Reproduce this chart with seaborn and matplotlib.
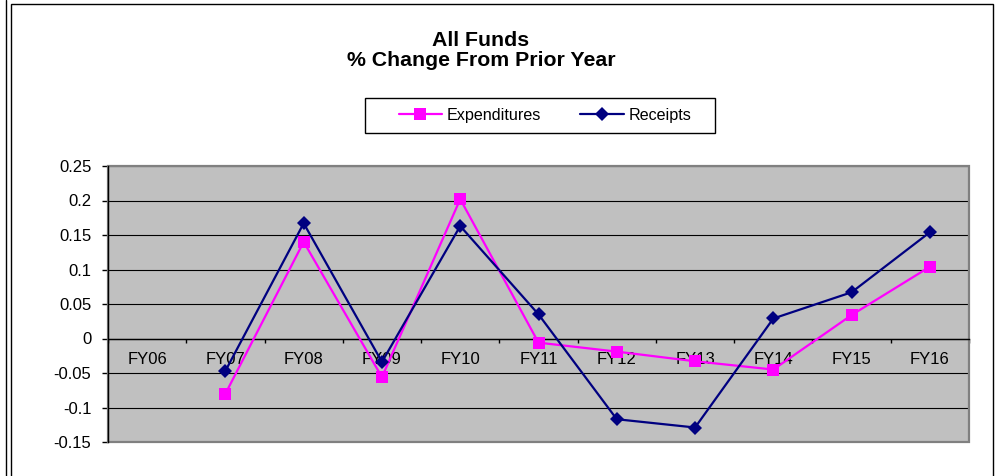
import numpy as np
import pandas as pd
import matplotlib
matplotlib.use("Agg")
import matplotlib.pyplot as plt
import seaborn as sns
from matplotlib.patches import Rectangle
from matplotlib.lines import Line2D

categories = ["FY06", "FY07", "FY08", "FY09", "FY10", "FY11",
              "FY12", "FY13", "FY14", "FY15", "FY16"]
expenditures = [np.nan, -0.080, 0.140, -0.056, 0.202, -0.006,
                -0.019, -0.033, -0.045, 0.034, 0.104]
receipts = [np.nan, -0.047, 0.167, -0.034, 0.163, 0.035,
            -0.117, -0.129, 0.029, 0.067, 0.154]
y_ticks = [-0.15, -0.1, -0.05, 0, 0.05, 0.1, 0.15, 0.2, 0.25]
y_tick_labels = ["-0.15", "-0.1", "-0.05", "0", "0.05", "0.1", "0.15", "0.2", "0.25"]
title_lines = ["All Funds", "% Change From Prior Year"]
series_names = ["Expenditures", "Receipts"]

sns.set_theme(style="white")
plt.rcParams['font.family'] = ['Liberation Sans', 'DejaVu Sans']
plt.rcParams['text.color'] = 'black'
plt.rcParams['xtick.color'] = 'black'
plt.rcParams['ytick.color'] = 'black'

W, H = 999, 476
fig = plt.figure(figsize=(W / 100, H / 100), dpi=100)
fig.patch.set_facecolor('white')

ax = fig.add_axes([108 / W, 1 - 442 / H, 861 / W, 276 / H])
ax.set_facecolor('#C0C0C0')

df = pd.DataFrame({
    'pos': np.arange(len(categories)),
    'category': categories,
    'Expenditures': expenditures,
    'Receipts': receipts,
})

exp_color = '#FF00FF'
rec_color = '#000080'

sns.lineplot(data=df, x='pos', y='Expenditures', ax=ax, color=exp_color,
             marker='s', markersize=8, markeredgewidth=0, linewidth=1.6,
             zorder=3, legend=False)
sns.lineplot(data=df, x='pos', y='Receipts', ax=ax, color=rec_color,
             marker='D', markersize=6.8, markeredgewidth=0, linewidth=1.6,
             zorder=3, legend=False)

ax.set_xlabel('')
ax.set_ylabel('')
ax.set_xlim(-0.5, len(categories) - 0.5)
ax.set_ylim(-0.15, 0.25)
ax.set_axisbelow(True)

ax.set_yticks(y_ticks)
ax.set_yticklabels(y_tick_labels)
ax.set_xticks(np.arange(len(categories)))
ax.set_xticklabels(categories)
ax.set_xticks(np.arange(-0.5, len(categories), 1.0), minor=True)

ax.tick_params(axis='y', which='major', left=True, length=4.5, width=1,
               direction='out', pad=7.5, labelsize=12, colors='black')
ax.tick_params(axis='x', which='major', bottom=True, length=0, pad=9.5,
               labelsize=12, colors='black')
ax.tick_params(axis='x', which='minor', bottom=True, length=3, width=1,
               direction='out', colors='black')

ax.yaxis.grid(True, color='black', linewidth=0.8)
ax.xaxis.grid(False)

for s in ['top', 'right']:
    ax.spines[s].set_visible(False)
ax.spines['left'].set_color('black')
ax.spines['left'].set_linewidth(1)
ax.spines['bottom'].set_position(('data', 0))
ax.spines['bottom'].set_color('black')
ax.spines['bottom'].set_linewidth(1)

border = Rectangle((0, 0), 1, 1, transform=ax.transAxes, fill=False,
                   edgecolor='#808080', linewidth=1.6, zorder=2.4, clip_on=False)
ax.add_patch(border)

# Title (two lines)
fig.text(481 / W, 1 - 46 / H, title_lines[0], ha='center', va='baseline',
         fontsize=15.3, fontweight='bold', color='black')
fig.text(481 / W, 1 - 65.5 / H, title_lines[1], ha='center', va='baseline',
         fontsize=15.3, fontweight='bold', color='black')

# Legend
handles = [
    Line2D([], [], color=exp_color, marker='s', markersize=8, markeredgewidth=0, linewidth=1.6),
    Line2D([], [], color=rec_color, marker='D', markersize=6.8, markeredgewidth=0, linewidth=1.6),
]
fig.legend(handles, series_names, ncol=2, loc='center',
           bbox_to_anchor=(545 / W, 1 - 115.5 / H), frameon=False,
           fontsize=11.6, handlelength=2.7, handletextpad=0.3,
           columnspacing=2.4, borderaxespad=0, borderpad=0)
fig.patches.append(Rectangle((365 / W, 1 - 133 / H), 350 / W, 35 / H,
                             transform=fig.transFigure, fill=False,
                             edgecolor='black', linewidth=1))

# Outer chart frame
fig.patches.append(Rectangle((11 / W, -4 / H), 982 / W, 476 / H,
                             transform=fig.transFigure, fill=False,
                             edgecolor='black', linewidth=1))
fig.lines.append(Line2D([6 / W, 6 / W], [0, 1], transform=fig.transFigure,
                        color='black', linewidth=1))

fig.savefig('out.png', dpi=100, facecolor='white')
